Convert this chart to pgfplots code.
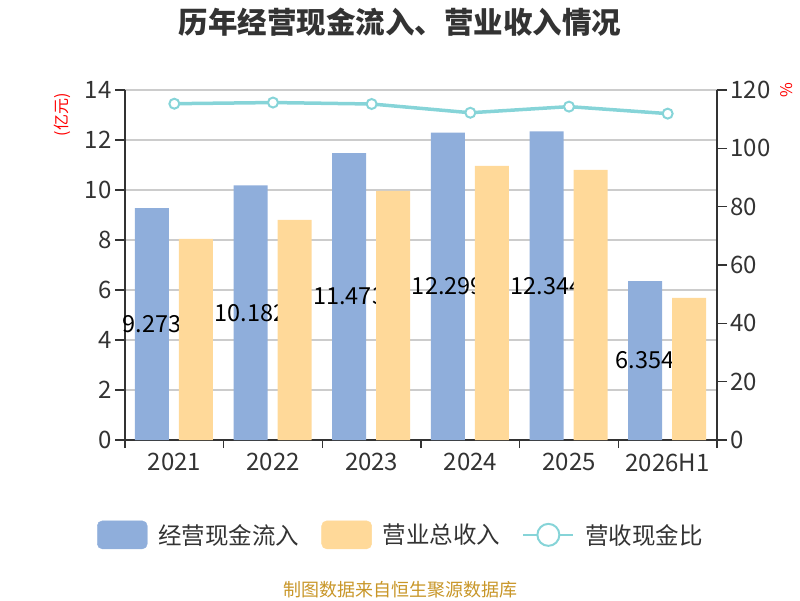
\documentclass[border=0pt]{standalone}
\usepackage{fontspec}
\setmainfont{Noto Sans CJK SC}
\usepackage{pgfplots}
\usepackage{pgfplotstable}
\pgfplotsset{compat=1.18}
\definecolor{barblue}{RGB}{143,174,219}
\definecolor{barorange}{RGB}{255,217,153}
\definecolor{linec}{RGB}{134,212,216}
\definecolor{txt}{RGB}{51,51,51}
\definecolor{gridc}{RGB}{204,204,204}
\definecolor{srcc}{RGB}{200,150,40}

\pgfplotstableread{
x cash rev ratio
0 9.273 8.04 115.3
1 10.182 8.80 115.7
2 11.473 9.96 115.2
3 12.299 10.96 112.2
4 12.344 10.80 114.3
5 6.354 5.68 111.9
}\datatable

\pgfplotsset{
  base/.style={
    at={(125pt,160pt)}, anchor=south west, scale only axis,
    width=592pt, height=350pt,
    xmin=-0.5, xmax=5.5,
    ticklabel style={font=\fontsize{24}{28}\selectfont, text=txt},
    /pgf/number format/assume math mode=true,
  }
}

\begin{document}
\begin{tikzpicture}
\path[use as bounding box] (0,0) rectangle (800pt,600pt);
\begin{axis}[
  base, ymin=0, ymax=14,
  axis x line*=bottom, axis y line*=left,
  axis line style={draw=txt, line width=1.5pt},
  xtick={0,...,5}, xticklabels={2021,2022,2023,2024,2025,2026H1},
  major x tick style={draw=none},
  minor xtick={-0.5,0.5,...,5.5},
  minor x tick style={draw=txt, line width=1.5pt},
  minor tick length=8pt,
  ytick={0,2,...,14},
  major tick length=10pt,
  tick align=outside,
  y tick style={draw=txt, line width=1.5pt},
  ymajorgrids, grid style={gridc, line width=1.2pt},
]
\addplot[ybar, bar width=34pt, bar shift=-22.5pt, fill=barblue, draw=none,
  point meta=y,
  nodes near coords={\pgfmathprintnumber[fixed,fixed zerofill,precision=3]{\pgfplotspointmeta}},
  visualization depends on={y \as \rawy},
  every node near coord/.append style={anchor=center, xshift=-22.5pt, yshift=-\rawy*12.5pt,
     font=\fontsize{23.5}{27}\selectfont, text=black},
  ] table[x=x,y=cash]{\datatable};
\end{axis}
\begin{axis}[
  base, ymin=0, ymax=14, hide axis,
]
\addplot[ybar, bar width=34pt, bar shift=21.5pt, fill=barorange, draw=none]
  table[x=x,y=rev]{\datatable};
\end{axis}
\begin{axis}[
  base, ymin=0, ymax=120,
  axis x line=none, axis y line*=right,
  axis line style={draw=txt, line width=1.5pt},
  ytick={0,20,...,120},
  major tick length=10pt,
  tick align=outside,
  y tick style={draw=txt, line width=1.5pt},
  legend columns=3,
  legend cell align=left,
  legend style={at={(0.4645,-0.271)}, anchor=center, draw=none, fill=none,
    font=\fontsize{23.5}{27}\selectfont, text=txt,
    nodes={inner sep=0pt},
    /tikz/every odd column/.append style={column sep=11pt},
    /tikz/every even column/.append style={column sep=22pt}},
]
\addlegendimage{legend image code/.code={\fill[barblue, rounded corners=5pt] (0pt,-14pt) rectangle (50pt,14pt);}}
\addlegendentry{经营现金流入}
\addlegendimage{legend image code/.code={\fill[barorange, rounded corners=5pt] (0pt,-14pt) rectangle (50pt,14pt);}}
\addlegendentry{营业总收入}
\addlegendimage{legend image code/.code={\draw[linec, line width=2pt] (0pt,0pt)--(50pt,0pt); \draw[linec, line width=2pt, fill=white] (25pt,0pt) circle (11pt);}}
\addlegendentry{营收现金比}
\addplot[linec, line width=3.5pt, mark=*, mark size=5pt,
  mark options={fill=white, draw=linec, line width=2pt}, forget plot] table[x=x,y=ratio]{\datatable};
\end{axis}
\node[font=\fontsize{29.5}{33}\selectfont\bfseries, text=txt] at (400pt,578pt) {历年经营现金流入、营业收入情况};
\node[rotate=90, text=red, font=\fontsize{16}{18}\selectfont] at (62pt,485pt) {(亿元)};
\node[rotate=90, text=red, font=\fontsize{16}{18}\selectfont] at (787pt,510pt) {\%};
\node[font=\fontsize{18}{20}\selectfont, text=srcc] at (400pt,10pt) {制图数据来自恒生聚源数据库};
\end{tikzpicture}
\end{document}
